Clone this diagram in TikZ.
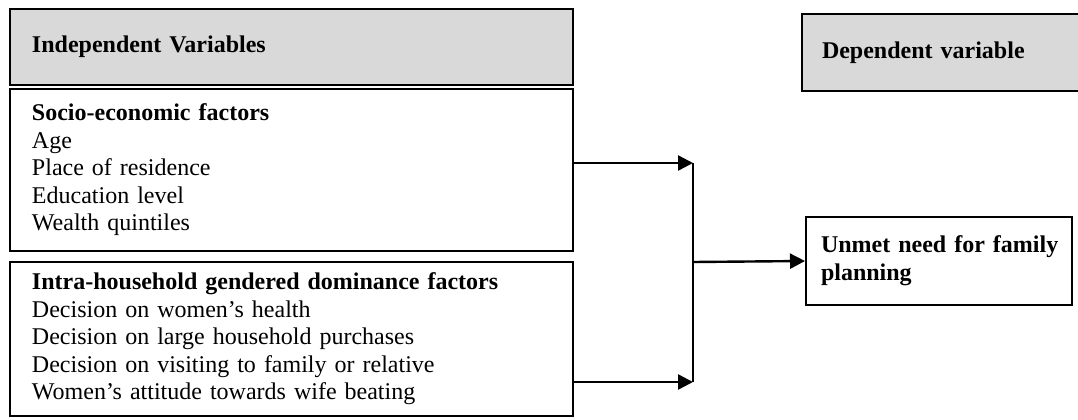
\documentclass[tikz,border=0pt]{standalone}
\usepackage{fontspec}
\setmainfont{Liberation Serif}
\usetikzlibrary{arrows.meta,positioning}
\definecolor{hdrgray}{RGB}{217,217,217}

\begin{document}
\begin{tikzpicture}[
      x=0.5pt, y=-0.5pt,
      font=\fontsize{12}{13.75}\selectfont,
      box/.style={
          rectangle, draw, line width=1.25pt,
          align=left,
          text width=259.5pt,
          inner xsep=11pt,
          inner ysep=0pt
        },
      hdr/.style={box, fill=hdrgray, font=\fontsize{12}{13.75}\selectfont\bfseries},
      arr/.style={-{Triangle[length=7.5pt,width=7.5pt]}, line width=1.2pt},
    ]
    \useasboundingbox (0,0) rectangle (1078,419);

    % left column
    \node[hdr, minimum height=38pt] (indep) at (291.5,47) {Independent Variables};
    \node[box, minimum height=81pt] (socio) at (291.5,170)
      {\textbf{Socio-economic factors}\\Age\\Place of residence\\Education level\\Wealth quintiles};
    \node[box, minimum height=77pt] (intra) at (291.5,339)
      {\textbf{Intra-household gendered dominance factors}\\Decision on women's health\\Decision on large household purchases\\Decision on visiting to family or relative\\Women's attitude towards wife beating};

    % right column
    \node[hdr, text width=121pt, inner xsep=10pt, minimum height=38.5pt] (dep) at (943,52.5) {Dependent variable};
    \node[box, line width=1pt, text width=118pt, inner xsep=7.5pt, minimum height=44pt,
          font=\fontsize{12}{14}\selectfont\bfseries] (unmet) at (939,261) {\mbox{Unmet need for family}\\planning};

    \coordinate (jtop) at (693,163);
    \coordinate (jmid) at (693,262);
    \coordinate (jbot) at (693,382);

    \draw[arr] (socio.east |- jtop) -- (jtop);
    \draw[arr] (intra.east |- jbot) -- (jbot);
    \draw[line width=1.2pt] (jtop) -- (jbot);
    \draw[arr] (jmid) -- (unmet.west);
  \end{tikzpicture}
\end{document}
